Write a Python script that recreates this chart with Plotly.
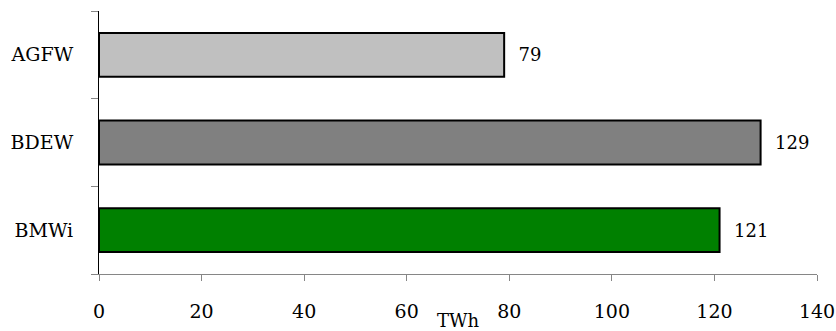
import plotly.graph_objects as go

categories = ["BMWi", "BDEW", "AGFW"]
values = [121, 129, 79]
colors = ["#008000", "#808080", "#C0C0C0"]
x_ticks = [0, 20, 40, 60, 80, 100, 120, 140]

FONT = "DejaVu Serif"

fig = go.Figure(
    go.Bar(
        y=categories,
        x=values,
        orientation="h",
        marker=dict(color=colors, line=dict(color="black", width=2)),
        text=[f"  {v}" for v in values],
        textposition="outside",
        textfont=dict(family=FONT, size=18, color="black"),
        constraintext="none",
        cliponaxis=False,
    )
)

fig.update_layout(
    width=836,
    height=331,
    margin=dict(l=99, r=19, t=11, b=57),
    paper_bgcolor="white",
    plot_bgcolor="white",
    bargap=0.5,
    showlegend=False,
    font=dict(family=FONT, size=19, color="black"),
    xaxis=dict(
        range=[0, 140],
        tickvals=x_ticks,
        ticktext=[str(t) for t in x_ticks],
        showgrid=False,
        zeroline=False,
        showline=True,
        linecolor="#868686",
        linewidth=1,
        ticks="outside",
        ticklen=6,
        tickcolor="#868686",
        tickfont=dict(family=FONT, size=19),
        ticklabelstandoff=14,
        title=dict(text="TWh", font=dict(family=FONT, size=18), standoff=1),
        automargin=False,
    ),
    yaxis=dict(
        showgrid=False,
        zeroline=False,
        showline=True,
        linecolor="black",
        linewidth=1,
        ticks="outside",
        ticklen=7,
        tickcolor="#868686",
        tickson="boundaries",
        tickfont=dict(family=FONT, size=19),
        ticklabelstandoff=21,
        automargin=False,
    ),
)

fig.write_html("out.html")
